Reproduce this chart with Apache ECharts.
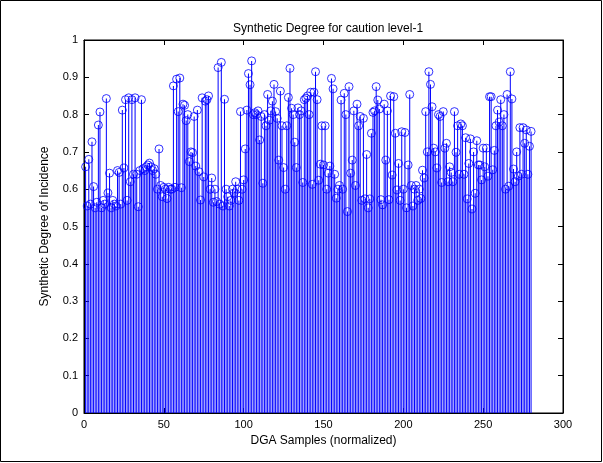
<!DOCTYPE html>
<html>
<head>
<meta charset="utf-8">
<script src="https://cdn.jsdelivr.net/npm/echarts@6/dist/echarts.min.js"></script>
<style>
html,body{margin:0;padding:0;background:#fff;}
#chart{width:603px;height:463px;}
</style>
</head>
<body>
<div id="chart"></div>
<script>
const titleText = "Synthetic Degree for caution level-1";
const xLabel = "DGA Samples (normalized)";
const yLabel = "Synthetic Degree of Incidence";
const xTicks = [0, 50, 100, 150, 200, 250, 300];
const yTicks = [0, 0.1, 0.2, 0.3, 0.4, 0.5, 0.6, 0.7, 0.8, 0.9, 1];
const values = [
  0.66, 0.555, 0.68, 0.56, 0.727, 0.607, 0.55, 0.565, 0.772, 0.807,
  0.55, 0.57, 0.56, 0.843, 0.59, 0.643, 0.55, 0.57, 0.56, 0.555,
  0.65, 0.645, 0.56, 0.812, 0.657, 0.84, 0.57, 0.845, 0.62, 0.84,
  0.64, 0.845, 0.64, 0.553, 0.65, 0.84, 0.655, 0.65, 0.66, 0.665,
  0.67, 0.66, 0.65, 0.655, 0.64, 0.6, 0.708, 0.61, 0.58, 0.605,
  0.6, 0.575, 0.605, 0.6, 0.6, 0.877, 0.605, 0.895, 0.808, 0.898,
  0.604, 0.828, 0.825, 0.784, 0.80, 0.674, 0.70, 0.698, 0.795, 0.662,
  0.812, 0.647, 0.571, 0.845, 0.633, 0.836, 0.84, 0.85, 0.6, 0.63,
  0.565, 0.6, 0.567, 0.926, 0.56, 0.94, 0.555, 0.841, 0.6, 0.58,
  0.555, 0.57, 0.6, 0.59, 0.62, 0.6, 0.57, 0.808, 0.6, 0.625,
  0.708, 0.812, 0.91, 0.88, 0.944, 0.80, 0.805, 0.80, 0.81, 0.732,
  0.795, 0.616, 0.80, 0.77, 0.854, 0.785, 0.81, 0.836, 0.881, 0.808,
  0.79, 0.678, 0.863, 0.77, 0.658, 0.6, 0.77, 0.846, 0.924, 0.817,
  0.80, 0.726, 0.658, 0.818, 0.80, 0.81, 0.618, 0.84, 0.844, 0.85,
  0.80, 0.86, 0.613, 0.86, 0.915, 0.84, 0.624, 0.667, 0.77, 0.665,
  0.77, 0.6, 0.643, 0.662, 0.897, 0.869, 0.64, 0.576, 0.6, 0.61,
  0.839, 0.6, 0.857, 0.8, 0.54, 0.875, 0.643, 0.678, 0.81, 0.61,
  0.828, 0.77, 0.795, 0.57, 0.79, 0.574, 0.693, 0.55, 0.574, 0.75,
  0.806, 0.81, 0.875, 0.839, 0.815, 0.572, 0.558, 0.828, 0.678, 0.81,
  0.572, 0.85, 0.638, 0.848, 0.75, 0.598, 0.669, 0.57, 0.754, 0.6,
  0.752, 0.55, 0.665, 0.854, 0.61, 0.555, 0.6, 0.61, 0.57, 0.6,
  0.575, 0.651, 0.63, 0.808, 0.7, 0.915, 0.881, 0.821, 0.71, 0.7,
  0.657, 0.8, 0.795, 0.618, 0.808, 0.71, 0.723, 0.62, 0.66, 0.645,
  0.62, 0.808, 0.699, 0.77, 0.64, 0.775, 0.77, 0.64, 0.738, 0.574,
  0.669, 0.735, 0.547, 0.7, 0.589, 0.73, 0.665, 0.665, 0.625, 0.71,
  0.66, 0.71, 0.635, 0.848, 0.848, 0.652, 0.704, 0.77, 0.812, 0.78,
  0.84, 0.77, 0.8, 0.6, 0.854, 0.608, 0.915, 0.842, 0.654, 0.62,
  0.7, 0.635, 0.765, 0.64, 0.765, 0.723, 0.759, 0.64, 0.715, 0.755
];
const points = values.map((v, i) => [i + 1, v]);

const chart = echarts.init(document.getElementById('chart'), null, {renderer: 'canvas'});
const font = 'Liberation Sans, Arial, sans-serif';
const axisCommon = {
  min: 0,
  axisLine: {show: true, onZero: false, lineStyle: {color: '#000', width: 1}},
  axisTick: {show: true, inside: true, length: 5, lineStyle: {color: '#000'}},
  splitLine: {show: false},
  axisLabel: {color: '#000', fontFamily: font, fontSize: 11}
};
chart.setOption({
  animation: false,
  backgroundColor: '#fff',
  title: {
    text: titleText, left: 323, top: 18, textAlign: 'center',
    textStyle: {fontFamily: font, fontSize: 12, fontWeight: 'normal', color: '#000'}
  },
  grid: {left: 84, right: 40, top: 40, bottom: 50, show: true, borderColor: '#000', borderWidth: 1, backgroundColor: '#fff'},
  xAxis: [
    Object.assign({}, axisCommon, {
      type: 'value', max: 300, interval: 50, position: 'bottom',
      name: xLabel, nameLocation: 'middle', nameGap: 22,
      nameTextStyle: {fontFamily: font, fontSize: 12, color: '#000'},
      axisLabel: Object.assign({}, axisCommon.axisLabel, {margin: 6})
    }),
    Object.assign({}, axisCommon, {
      type: 'value', max: 300, interval: 50, position: 'top',
      axisLabel: {show: false}
    })
  ],
  yAxis: [
    Object.assign({}, axisCommon, {
      type: 'value', max: 1, interval: 0.1, position: 'left',
      name: yLabel, nameLocation: 'middle', nameGap: 33,
      nameTextStyle: {fontFamily: font, fontSize: 12, color: '#000'},
      axisLabel: Object.assign({}, axisCommon.axisLabel, {margin: 6})
    }),
    Object.assign({}, axisCommon, {
      type: 'value', max: 1, interval: 0.1, position: 'right',
      axisLabel: {show: false}
    })
  ],
  graphic: [{
    type: 'rect', shape: {x: 0.5, y: 0.5, width: 601, height: 461},
    style: {fill: 'none', stroke: '#000', lineWidth: 1}, silent: true
  }],
  series: [
    {
      type: 'bar', data: points, barWidth: 1, xAxisIndex: 0, yAxisIndex: 0,
      itemStyle: {color: '#0000ff'}, silent: true
    },
    {
      type: 'scatter', data: points, symbol: 'circle', symbolSize: 8,
      xAxisIndex: 0, yAxisIndex: 0,
      itemStyle: {color: 'rgba(0,0,0,0)', borderColor: '#0000ff', borderWidth: 1}, silent: true
    }
  ]
});
</script>
</body>
</html>
